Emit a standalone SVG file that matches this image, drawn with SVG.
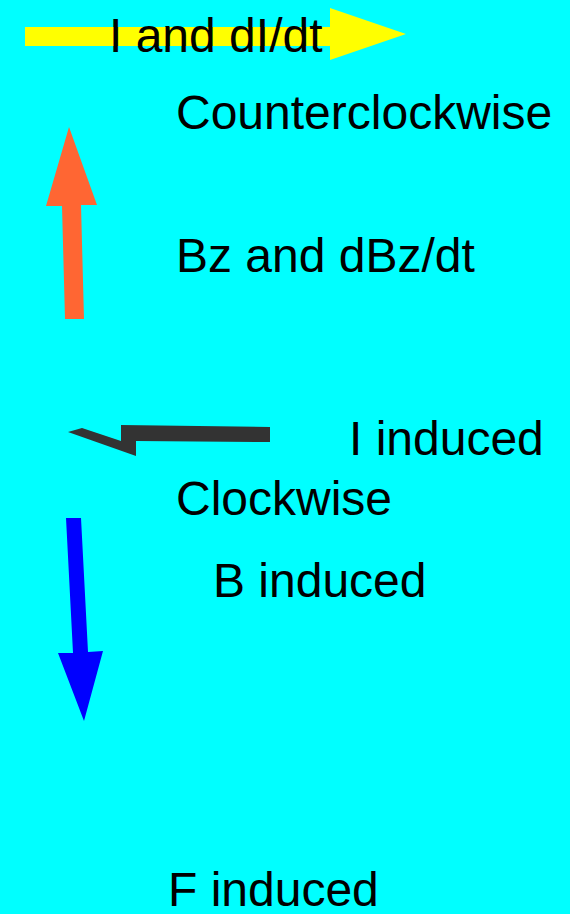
<svg xmlns="http://www.w3.org/2000/svg" width="570" height="914" viewBox="0 0 570 914">
<style>
text{font-family:"Liberation Sans",Arial,sans-serif;font-size:48px;fill:#000}
</style>
<rect width="570" height="914" fill="#00FFFF"/>
<g id="connectors">
<polygon id="arrow-i" fill="#FFFF00" points="25,27 330,27 330,8 406,34 330,60 330,46 25,46"/>
<polygon id="arrow-bz" fill="#FF6633" points="69,127 97,205 81,205 84,319 65,319 62,206 46,206"/>
<polygon id="arrow-iind" fill="#333333" points="68,432 82,428 121,441 121,425 270,427 270,442 136,441 136,456"/>
<polygon id="arrow-bind" fill="#0000FF" points="66,518 81,518 88,652 103,651 84,721 58,653 73,653"/>
</g>
<g id="label-i"><text x="109" y="52">I and dI/dt</text></g>
<g id="label-ccw"><text x="176" y="129">Counterclockwise</text></g>
<g id="label-bz"><text x="176" y="272">Bz and dBz/dt</text></g>
<g id="label-iind"><text x="349" y="455">I induced</text></g>
<g id="label-cw"><text x="176" y="515">Clockwise</text></g>
<g id="label-bind"><text x="213" y="597">B induced</text></g>
<g id="label-find"><text x="168" y="906">F induced</text></g>
</svg>
